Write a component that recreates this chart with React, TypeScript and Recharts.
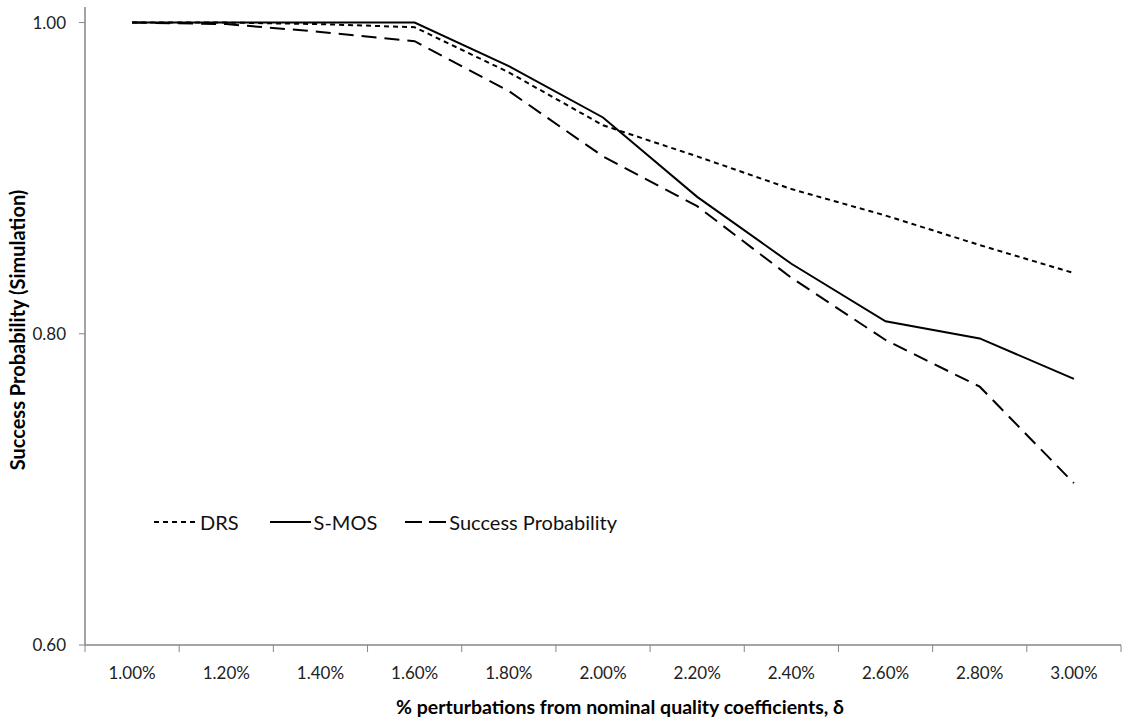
import React from 'react';
import { LineChart, Line, XAxis, YAxis, Legend, Label } from 'recharts';

// Perturbation levels (categories on the x axis)
const categories = ['1.00%', '1.20%', '1.40%', '1.60%', '1.80%', '2.00%', '2.20%', '2.40%', '2.60%', '2.80%', '3.00%'];

// Series values
const drs = [1.0, 1.0, 0.999, 0.997, 0.968, 0.934, 0.914, 0.893, 0.876, 0.857, 0.839];
const smos = [1.0, 1.0, 1.0, 1.0, 0.972, 0.939, 0.888, 0.845, 0.808, 0.797, 0.771];
const successProb = [1.0, 0.999, 0.994, 0.988, 0.956, 0.914, 0.882, 0.836, 0.796, 0.766, 0.704];

// Y axis ticks
const yTicks = [0.6, 0.8, 1.0];

const data = categories.map((cat, i) => ({
  cat,
  DRS: drs[i],
  'S-MOS': smos[i],
  'Success Probability': successProb[i],
}));

const FONT = 'Lato, "Open Sans", sans-serif';
const AXIS = '#868686';
const TICK_SIZE = 7;
const TICK_MARGIN = 15;

const legendItems = [
  { name: 'DRS', dash: '5 4', sample: 43, gap: 31 },
  { name: 'S-MOS', dash: undefined, sample: 41, gap: 28 },
  { name: 'Success Probability', dash: '17 7', sample: 41, gap: 0 },
];

const LegendContent = () => (
  <div style={{ display: 'flex', alignItems: 'center', fontFamily: FONT, fontSize: 20, color: '#111', lineHeight: '24px' }}>
    {legendItems.map((it) => (
      <div key={it.name} style={{ display: 'flex', alignItems: 'center', marginRight: it.gap }}>
        <svg width={it.sample} height={10} style={{ marginRight: 3 }}>
          <line x1={0} y1={5} x2={it.sample} y2={5} stroke="#000" strokeWidth={2} strokeDasharray={it.dash} />
        </svg>
        <span>{it.name}</span>
      </div>
    ))}
  </div>
);

// Category tick: label at the band centre, tick marks on the band boundaries
const CategoryTick = (props: any) => {
  const { x, y, payload, index, visibleTicksCount } = props;
  const half = payload.offset || 0;
  const axisY = y - TICK_SIZE - TICK_MARGIN;
  const isLast = index === visibleTicksCount - 1;
  return (
    <g>
      <line x1={x - half} y1={axisY} x2={x - half} y2={axisY + TICK_SIZE} stroke={AXIS} />
      {isLast && <line x1={x + half} y1={axisY} x2={x + half} y2={axisY + TICK_SIZE} stroke={AXIS} />}
      <text x={x} y={y} dy="0.71em" textAnchor="middle" fontFamily={FONT} fontSize={17} fill="#222">
        {payload.value}
      </text>
    </g>
  );
};

export default function App() {
  return (
    <div style={{ position: 'absolute', left: 0, top: 0, background: '#fff' }}>
      <LineChart width={1122} height={721} data={data} margin={{ top: 7, right: 1, left: 0, bottom: 0 }}>
        <XAxis
          dataKey="cat"
          scale="band"
          height={76}
          axisLine={{ stroke: AXIS, strokeWidth: 1.5 }}
          tickLine={false}
          tickSize={TICK_SIZE}
          tickMargin={TICK_MARGIN}
          tick={<CategoryTick />}
          interval={0}
        >
          <Label
            content={({ viewBox }: any) => {
              const cx = viewBox.x + viewBox.width / 2 + 17;
              const cy = viewBox.y + viewBox.height - 15;
              return (
                <text x={cx} y={cy} textAnchor="middle" dominantBaseline="central" fontFamily={FONT} fontSize={19.5} fontWeight="bold" fill="#000">
                  % perturbations from nominal quality coefficients, δ
                </text>
              );
            }}
          />
        </XAxis>
        <YAxis
          domain={[0.6, 1.01]}
          ticks={yTicks}
          width={85}
          allowDataOverflow
          axisLine={{ stroke: AXIS, strokeWidth: 1.5 }}
          tickLine={{ stroke: AXIS }}
          tickSize={6}
          tickMargin={13}
          tickFormatter={(v: number) => v.toFixed(2)}
          tick={{ fontFamily: FONT, fontSize: 17, fill: '#222' }}
        >
          <Label
            content={({ viewBox }: any) => {
              const cx = viewBox.x + 17;
              const cy = viewBox.y + viewBox.height / 2 + 4;
              return (
                <text x={cx} y={cy} transform={`rotate(-90 ${cx} ${cy})`} textAnchor="middle" dominantBaseline="central" fontFamily={FONT} fontSize={20} fontWeight="bold" fill="#000">
                  Success Probability (Simulation)
                </text>
              );
            }}
          />
        </YAxis>
        <Legend
          verticalAlign="middle"
          align="center"
          content={<LegendContent />}
          wrapperStyle={{ position: 'absolute', left: 154, top: 510, width: 'auto' }}
        />
        <Line type="linear" dataKey="DRS" stroke="#000" strokeWidth={2} strokeDasharray="5 4" dot={false} isAnimationActive={false} />
        <Line type="linear" dataKey="S-MOS" stroke="#000" strokeWidth={2} dot={false} isAnimationActive={false} />
        <Line type="linear" dataKey="Success Probability" stroke="#000" strokeWidth={2} strokeDasharray="15 8" dot={false} isAnimationActive={false} />
      </LineChart>
    </div>
  );
}
